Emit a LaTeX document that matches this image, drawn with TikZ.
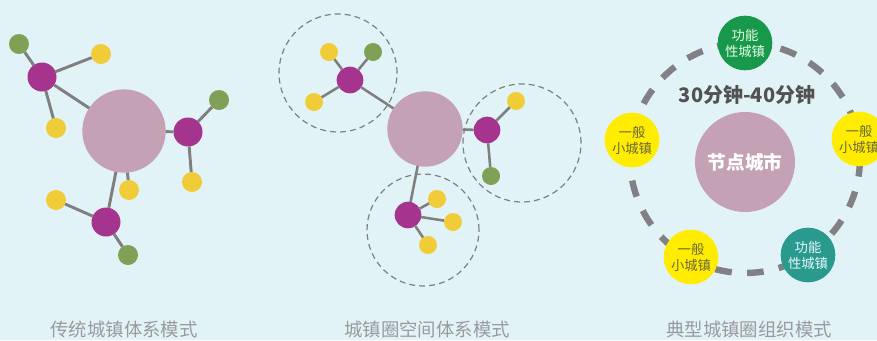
\documentclass[tikz,border=0pt]{standalone}
\usepackage{fontspec}
\newfontfamily\cjk{Noto Sans CJK SC}
\definecolor{bgc}{HTML}{E2F3F8}
\definecolor{pinkc}{HTML}{C4A1B5}
\definecolor{magc}{HTML}{A5348F}
\definecolor{grnc}{HTML}{80A055}
\definecolor{yelc}{HTML}{F0CD38}
\definecolor{linec}{HTML}{7F7F7F}
\definecolor{brightyel}{HTML}{FFEC00}
\definecolor{fgreen}{HTML}{17984A}
\definecolor{fteal}{HTML}{2A9A8E}
\definecolor{yeltext}{HTML}{6A673C}
\definecolor{captc}{HTML}{9A9A9A}
\definecolor{ringc}{HTML}{808085}
\tikzset{
  dot/.style={circle, inner sep=0pt, outer sep=0pt},
  bigA/.style={dot, fill=pinkc, minimum size=62.5pt},
  magA/.style={dot, fill=magc, minimum size=21.75pt},
  yelA/.style={dot, fill=yelc, minimum size=15pt},
  grnA/.style={dot, fill=grnc, minimum size=15pt},
  bigB/.style={dot, fill=pinkc, minimum size=56.5pt},
  magB/.style={dot, fill=magc, minimum size=20pt},
  yelB/.style={dot, fill=yelc, minimum size=13.5pt},
  grnB/.style={dot, fill=grnc, minimum size=13.5pt},
  linkA/.style={draw=linec, line width=2.2pt},
  linkB/.style={draw=linec, line width=1.9pt},
  zone/.style={dot, draw=linec, line width=0.9pt, dash pattern=on 4.5pt off 3pt, minimum size=88.5pt},
  bigC/.style={dot, fill=pinkc, minimum size=75pt, text=white, font=\cjk\fontsize{14}{16}\selectfont\bfseries},
  town/.style={dot, minimum size=41pt, align=center, font=\cjk\fontsize{10}{12}\selectfont},
  plain/.style={town, fill=brightyel, text=yeltext},
  funcg/.style={town, fill=fgreen, text=white!90!green},
  funct/.style={town, fill=fteal, text=white!90!cyan},
  ringst/.style={dot, draw=ringc, line width=4.8pt, dash pattern=on 12.5pt off 11.5pt, minimum size=172.5pt},
  capt/.style={font=\cjk\fontsize{13.8}{16}\selectfont, text=captc, inner sep=0pt},
}
\begin{document}
\begin{tikzpicture}[x=0.75pt,y=-0.75pt]
\fill[bgc] (0,0) rectangle (877,340);
\useasboundingbox (0,0) rectangle (877,340);
% ---------- panel 1 ----------
\node[bigA] (a0) at (124,131) {};
\node[magA] (a1) at (42,77) {};
\node[grnA] (a1g) at (19,44) {};
\node[yelA] (a1y) at (101,54) {};
\node[yelA] (a1z) at (56,128) {};
\node[magA] (a2) at (188,132) {};
\node[grnA] (a2g) at (219,100) {};
\node[yelA] (a2y) at (192,182) {};
\node[yelA] (a0y) at (129,190) {};
\node[magA] (a3) at (106,222) {};
\node[yelA] (a3y) at (56,200) {};
\node[grnA] (a3g) at (128,255) {};
\path[linkA] (a1) -- (a1g) (a1) -- (a1y) (a1) -- (a1z) (a1) -- (a0)
  (a0) -- (a2) (a2) -- (a2g) (a2) -- (a2y) (a0) -- (a0y)
  (a0) -- (a3) (a3) -- (a3y) (a3) -- (a3g);
% ---------- panel 2 ----------
\node[zone] (z1) at (338,73) {};
\node[zone] (z2) at (522,143) {};
\node[zone, minimum size=84pt] (z3) at (423,230) {};
\node[bigB] (b0) at (425,129) {};
\node[magB] (b1) at (350,80) {};
\node[yelB] (b1y) at (329,52) {};
\node[grnB] (b1g) at (373,52) {};
\node[yelB] (b1z) at (314,102) {};
\node[magB] (b2) at (487,130) {};
\node[yelB] (b2y) at (516,101) {};
\node[grnB] (b2g) at (491,176) {};
\node[magB] (b3) at (408,215) {};
\node[yelB] (b3a) at (437,199) {};
\node[yelB] (b3b) at (453,222) {};
\node[yelB] (b3c) at (428,245) {};
\path[linkB] (b0) -- (b1) (b1) -- (b1y) (b1) -- (b1g) (b1) -- (b1z)
  (b0) -- (b2) (b2) -- (b2y) (b2) -- (b2g)
  (b0) -- (b3) (b3) -- (b3a) (b3) -- (b3b) (b3) -- (b3c);
% ---------- panel 3 ----------
\node[ringst] (ring) at (745,158) {};
\node[bigC] (c0) at (745,162) {节点城市};
\node[font=\cjk\fontsize{15}{18}\selectfont\bfseries, text=black!68, inner sep=0pt] (time) at (747,95) {30分钟-40分钟};
\node[funcg] (t1) at (745,43) {功能\\性城镇};
\node[plain] (t2) at (632,140) {一般\\小城镇};
\node[plain] (t3) at (859,139) {一般\\小城镇};
\node[plain] (t4) at (691,257) {一般\\小城镇};
\node[funct] (t5) at (808,255) {功能\\性城镇};
% ---------- captions ----------
\node[capt] (cap1) at (124,329) {传统城镇体系模式};
\node[capt] (cap2) at (427,329) {城镇圈空间体系模式};
\node[capt] (cap3) at (749,329) {典型城镇圈组织模式};
\end{tikzpicture}
\end{document}
